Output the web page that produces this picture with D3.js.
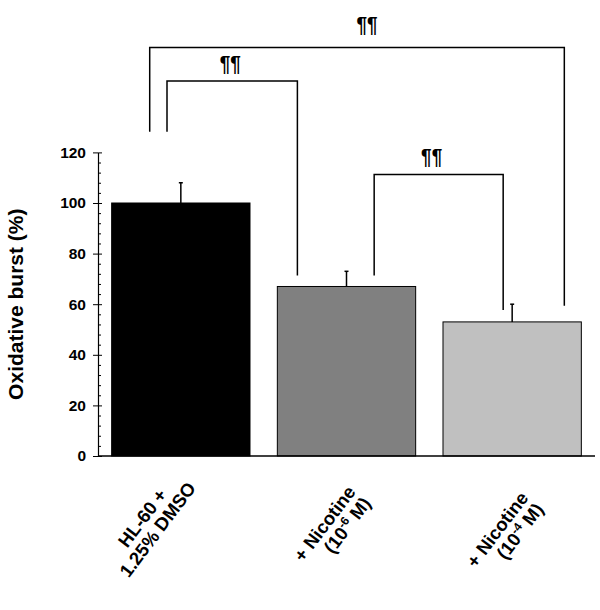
<!DOCTYPE html>
<html>
<head>
<meta charset="utf-8">
<script src="https://cdn.jsdelivr.net/npm/d3@7"></script>
<style>
body { margin: 0; background: #fff; }
text { font-family: "Liberation Sans", Arial, sans-serif; font-weight: bold; }
</style>
</head>
<body>
<svg width="600" height="610"></svg>
<script>
// chart values
var yLabel = "Oxidative burst (%)";
var values = [100, 67, 53];
var errors = [8, 6, 7];
var yTicks = [0, 20, 40, 60, 80, 100, 120];
var barColors = ["#000000", "#808080", "#c0c0c0"];
var catLines = [
    [[{t: "HL-60 +"}], [{t: "1.25% DMSO"}]],
    [[{t: "+ Nicotine"}], [{t: "(10"}, {t: "-6", sup: true}, {t: " M)"}]],
    [[{t: "+ Nicotine"}], [{t: "(10"}, {t: "-4", sup: true}, {t: " M)"}]]
];
var comparisons = [[0, 1], [1, 2], [0, 2]];
var compLabels = ["\u00b6\u00b6", "\u00b6\u00b6", "\u00b6\u00b6"];

var svg = d3.select("svg");

var x = d3.scaleBand()
    .domain(d3.range(values.length))
    .range([98, 595])
    .paddingInner(0.165)
    .paddingOuter(0.0825);

var y = d3.scaleLinear()
    .domain([0, 120])
    .range([456, 152.4]);

// bars
svg.selectAll(".bar")
    .data(values)
    .enter().append("rect")
    .attr("class", "bar")
    .attr("x", function(d, i) { return x(i); })
    .attr("y", function(d) { return y(d); })
    .attr("width", x.bandwidth())
    .attr("height", function(d) { return y(0) - y(d); })
    .style("fill", function(d, i) { return barColors[i]; })
    .style("stroke", "#000")
    .style("stroke-width", 1);

// error bars
var eb = svg.selectAll(".err")
    .data(values)
    .enter().append("g")
    .attr("class", "err");
eb.append("line")
    .attr("x1", function(d, i) { return x(i) + x.bandwidth()/2; })
    .attr("x2", function(d, i) { return x(i) + x.bandwidth()/2; })
    .attr("y1", function(d) { return y(d); })
    .attr("y2", function(d, i) { return y(d + errors[i]); });
eb.append("line")
    .attr("x1", function(d, i) { return x(i) + x.bandwidth()/2 - 2; })
    .attr("x2", function(d, i) { return x(i) + x.bandwidth()/2 + 2; })
    .attr("y1", function(d, i) { return y(d + errors[i]); })
    .attr("y2", function(d, i) { return y(d + errors[i]); });
eb.selectAll("line").style("stroke", "#000").style("stroke-width", 1.5);

// y axis: minor ticks on the right, major ticks crossing the axis
var minor = d3.range(0, 121, 4).filter(function(v) { return v % 20 != 0; });
svg.append("g")
    .attr("transform", "translate(98,0)")
    .call(d3.axisRight(y).tickValues(minor).tickSize(3).tickFormat(""))
    .call(function(g) { g.select(".domain").remove(); });
svg.append("g")
    .attr("transform", "translate(98,0)")
    .call(d3.axisRight(y).tickValues(yTicks).tickSize(4).tickFormat(""))
    .call(function(g) { g.select(".domain").remove(); });
var ya = svg.append("g")
    .attr("transform", "translate(98,0)")
    .call(d3.axisLeft(y).tickValues(yTicks).tickSizeInner(5).tickSizeOuter(0).tickPadding(7));
ya.selectAll("text")
    .style("font-size", "15.5px")
    .style("font-family", "'Liberation Sans', Arial, sans-serif")
    .style("font-weight", "bold");
ya.select(".domain").style("stroke-width", 1.2);
svg.selectAll(".tick line").style("stroke", "#000");

// x axis line
svg.append("line")
    .attr("x1", x.range()[0]).attr("x2", x.range()[1])
    .attr("y1", y(0)).attr("y2", y(0))
    .style("stroke", "#000").style("stroke-width", 1.5);

// y label
svg.append("text")
    .attr("transform", "translate(23," + (y(60)) + ") rotate(-90)")
    .attr("text-anchor", "middle")
    .style("font-size", "21px")
    .text(yLabel);

// category labels, rotated; anchor = end of the first line
var lineH = 19;
var labelPlace = [
    {dx: -13, y: 495, align: "middle"},
    {dx: 10, y: 492, align: "end"},
    {dx: 17, y: 498, align: "end"}
];
catLines.forEach(function(lines, i) {
    var P = labelPlace[i];
    var cx = x(i) + x.bandwidth()/2;
    var g = svg.append("g")
        .attr("transform", "translate(" + (cx + P.dx) + "," + P.y + ") rotate(-53)");
    var texts = lines.map(function(segs, k) {
        var t = g.append("text")
            .attr("y", k*lineH)
            .style("font-size", "18.5px");
        segs.forEach(function(s) {
            if (s.sup) {
                t.append("tspan").attr("dy", -7).style("font-size", "12px").text(s.t);
            } else {
                var ts = t.append("tspan").text(s.t);
                if (t.selectAll("tspan").size() > 1) ts.attr("dy", 7);
            }
        });
        return t;
    });
    var w1 = texts[0].node().getComputedTextLength();
    texts[0].attr("text-anchor", "end").attr("x", 0);
    texts.slice(1).forEach(function(t) {
        t.attr("text-anchor", P.align).attr("x", P.align == "middle" ? -w1/2 : 0);
    });
});

// significance brackets: leg positions as fractions of the bar band, heights in data units
var bracketLayout = [
    {f1: 0.40, f2: 0.145, top: 148.2, b1: 128.2, b2: 71.3, dx: -2, gap: 10},
    {f1: 0.70, f2: 0.435, top: 111.3, b1: 71.3, b2: 57.7, dx: -7, gap: 10},
    {f1: 0.275, f2: 0.877, top: 161.5, b1: 128.2, b2: 59.4, dx: 10, gap: 15}
];
comparisons.forEach(function(c, k) {
    var L = bracketLayout[k];
    var xa = x(c[0]) + L.f1*x.bandwidth();
    var xb = x(c[1]) + L.f2*x.bandwidth();
    svg.append("path")
        .attr("d", "M" + xa + "," + y(L.b1) + "V" + y(L.top) + "H" + xb + "V" + y(L.b2))
        .style("fill", "none")
        .style("stroke", "#000")
        .style("stroke-width", 1.5);
    svg.append("text")
        .attr("transform", "translate(" + ((xa + xb)/2 + L.dx) + "," + (y(L.top) - L.gap) + ") scale(1,1.2)")
        .attr("text-anchor", "middle")
        .style("font-size", "19px")
        .text(compLabels[k]);
});
</script>
</body>
</html>
